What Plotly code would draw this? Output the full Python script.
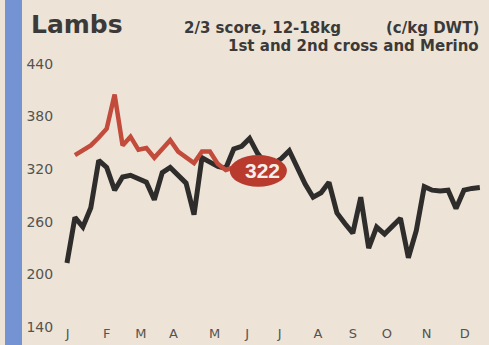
import plotly.graph_objects as go

# ---- data (weekly, c/kg DWT) ----
weeks_prev = list(range(0, 53))
prev_year = [213, 265, 254, 276, 330, 322, 296, 311, 313, 309,
             305, 285, 316, 322, 313, 304, 268, 333, 328, 323,
             321, 343, 346, 355, 338, 326, 326, 332, 341, 322,
             303, 288, 293, 305, 270, 258, 247, 288, 230, 254,
             246, 255, 264, 219, 250, 300, 296, 295, 296, 275,
             296, 298, 299]

weeks_curr = list(range(1, 22))
curr_year = [336, 341, 347, 356, 366, 405, 347, 357, 342, 344,
             333, 343, 353, 340, 333, 327, 340, 340, 326, 319,
             322]

latest_value = 322
label_week = 24.1
label_value = 318

month_labels = ["J", "F", "M", "A", "M", "J", "J", "A", "S", "O", "N", "D"]
month_pos = [0.1, 5.0, 9.3, 13.4, 18.6, 22.7, 26.8, 31.6, 36.0, 40.3, 45.3, 50.1]

y_ticks = [140, 200, 260, 320, 380, 440]

BG = "#ede4d7"
BLACK = "#2f2d2b"
RED = "#c24b3c"
TXT = "#3b3a38"

fig = go.Figure()
fig.add_trace(go.Scatter(x=weeks_prev, y=prev_year, mode="lines",
                         line=dict(color=BLACK, width=5), hoverinfo="skip"))
fig.add_trace(go.Scatter(x=weeks_curr, y=curr_year, mode="lines",
                         line=dict(color=RED, width=4.5), hoverinfo="skip"))

# label ellipse for latest value
fig.add_shape(type="circle", xref="x", yref="y",
              x0=label_week - 3.6, x1=label_week + 3.6,
              y0=label_value - 18, y1=label_value + 18,
              fillcolor="#b83b2e", line=dict(width=0))
fig.add_annotation(x=label_week + 0.5, y=label_value, xref="x", yref="y",
                   text=f"<b>{latest_value}</b>", showarrow=False,
                   font=dict(family="Liberation Sans", size=21, color="#f6eee8"))

PW, PH, L, T = 425, 273, 60, 55

def px(x):
    return (x - L) / PW

def py(y):
    return (PH - (y - T)) / PH

# left blue stripe
fig.add_shape(type="rect", xref="paper", yref="paper",
              x0=px(5), x1=px(22), y0=-1, y1=2,
              fillcolor="#7393d2", line=dict(width=0), layer="below")

fig.add_annotation(xref="paper", yref="paper", x=px(29), y=py(25),
                   xanchor="left", yanchor="middle", showarrow=False,
                   text="<b>Lambs</b>",
                   font=dict(family="DejaVu Sans", size=25, color=TXT))
fig.add_annotation(xref="paper", yref="paper", x=px(182), y=py(28),
                   xanchor="left", yanchor="middle", showarrow=False,
                   text="<b>2/3 score, 12-18kg</b>",
                   font=dict(family="DejaVu Sans", size=15, color=TXT))
fig.add_annotation(xref="paper", yref="paper", x=px(481), y=py(28),
                   xanchor="right", yanchor="middle", showarrow=False,
                   text="<b>(c/kg DWT)</b>",
                   font=dict(family="DejaVu Sans", size=15, color=TXT))
fig.add_annotation(xref="paper", yref="paper", x=px(481), y=py(46),
                   xanchor="right", yanchor="middle", showarrow=False,
                   text="<b>1st and 2nd cross and Merino</b>",
                   font=dict(family="DejaVu Sans", size=15, color=TXT))

fig.update_layout(
    width=489, height=345,
    margin=dict(l=L, r=4, t=T, b=17),
    paper_bgcolor=BG, plot_bgcolor=BG,
    showlegend=False,
    xaxis=dict(range=[-0.88, 52.65], tickvals=month_pos, ticktext=month_labels,
               showgrid=False, zeroline=False, showline=False, ticks="",
               automargin=False, ticklabelstandoff=-4,
               tickfont=dict(family="DejaVu Sans", size=13, color="#555350")),
    yaxis=dict(range=[138.86, 450.1], tickvals=y_ticks,
               showgrid=False, zeroline=False, showline=False,
               automargin=False,
               ticks="outside", ticklen=3, tickcolor="rgba(0,0,0,0)",
               tickfont=dict(family="DejaVu Sans", size=14, color="#555350")),
)

fig.write_html("out.html")
